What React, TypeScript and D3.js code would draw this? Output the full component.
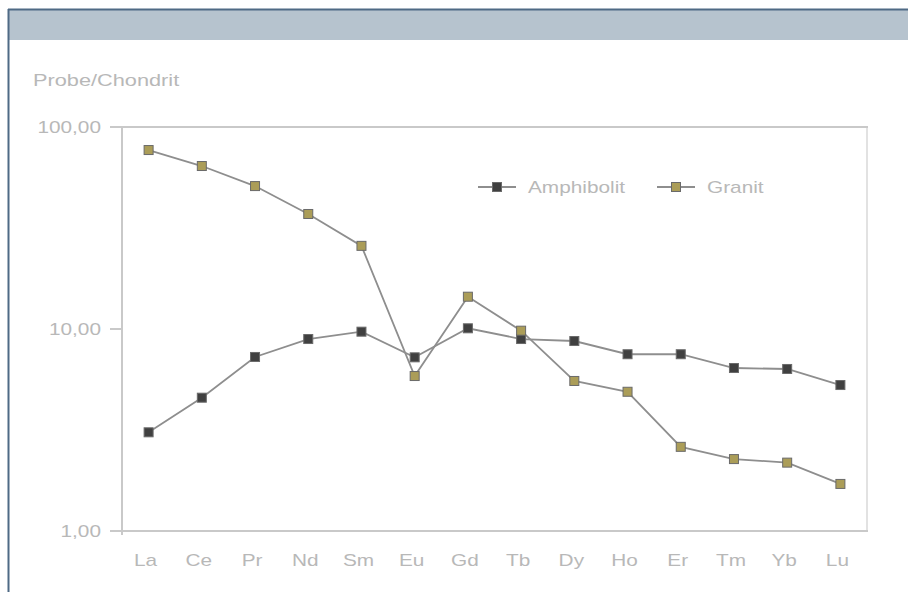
import React from "react"
import * as d3 from "d3"

// Seltene Erden, normiert auf Chondrit
const elements = ["La", "Ce", "Pr", "Nd", "Sm", "Eu", "Gd", "Tb", "Dy", "Ho", "Er", "Tm", "Yb", "Lu"]
const amphibolit = [3.08, 4.57, 7.27, 8.92, 9.7, 7.24, 10.08, 8.92, 8.72, 7.5, 7.5, 6.41, 6.34, 5.28]
const granit = [76.9, 64.1, 51.0, 37.1, 25.8, 5.85, 14.45, 9.81, 5.53, 4.89, 2.61, 2.27, 2.18, 1.71]
const yTicks = [1, 10, 100]
const yTickLabels = ["1,00", "10,00", "100,00"]
const seriesNames = ["Amphibolit", "Granit"]

const W = 908
const H = 592
const plot = { left: 122, right: 867, top: 127, bottom: 531 }

const TEXT = "#b8b8b8"
const LINE = "#8e8e8e"
const AXIS = "#c9c9c9"
const FILLS = ["#404040", "#ab9d58"]
const FONT = "'Liberation Sans', Arial, sans-serif"
const STRETCH = 1.3

function StretchText({ x, y, anchor = "start", sx = STRETCH, children }: any) {
  return (
    <text
      transform={`translate(${x},${y}) scale(${sx},1)`}
      textAnchor={anchor}
      fontFamily={FONT}
      fontSize={16}
      fill={TEXT}
    >
      {children}
    </text>
  )
}

export default function App() {
  const x = d3.scaleBand<string>().domain(elements).range([plot.left, plot.right])
  const cx = (e: string) => (x(e) ?? 0) + x.bandwidth() / 2
  const y = d3.scaleLog().domain([1, 100]).range([plot.bottom, plot.top])

  const line = d3
    .line<number>()
    .x((_d, i) => cx(elements[i]))
    .y((d) => y(d))

  const series = [amphibolit, granit]
  const m = 9 // Markergröße

  const legendX = [478, 657]
  const legendY = 187

  return (
    <svg width={W} height={H} style={{ position: "absolute", left: 0, top: 0 }}>
      <rect x={0} y={0} width={W} height={H} fill="#fff" />
      {/* Rahmen + Kopfleiste */}
      <rect x={9} y={10} width={W - 9} height={30} fill="#b6c3ce" />
      <line x1={8} x2={W} y1={9.5} y2={9.5} stroke="#4f6a85" strokeWidth={2} />
      <line x1={8.5} x2={8.5} y1={9} y2={H} stroke="#4f6a85" strokeWidth={2} />

      <StretchText x={33} y={86} sx={1.36}>Probe/Chondrit</StretchText>

      {/* Plotrahmen */}
      <line x1={plot.right} x2={plot.right} y1={plot.top} y2={plot.bottom} stroke="#e2e2e2" strokeWidth={2} />
      <line x1={110} x2={plot.right + 1} y1={y(100)} y2={y(100)} stroke={AXIS} strokeWidth={2} />
      <line x1={110} x2={plot.right + 1} y1={y(1)} y2={y(1)} stroke={AXIS} strokeWidth={2} />
      <line x1={plot.left} x2={plot.left} y1={plot.top} y2={plot.bottom + 4} stroke={AXIS} strokeWidth={2} />

      {/* Y-Achse */}
      {yTicks.map((t, i) => (
        <g key={t}>
          <line x1={110} x2={plot.left} y1={y(t)} y2={y(t)} stroke={AXIS} strokeWidth={2} />
          <StretchText x={101} y={y(t) + 5.7} anchor="end">
            {yTickLabels[i]}
          </StretchText>
        </g>
      ))}

      {/* X-Achse */}
      {elements.map((e) => (
        <StretchText key={e} x={cx(e) - 3} y={566} anchor="middle">
          {e}
        </StretchText>
      ))}

      {/* Linien */}
      {series.map((s, si) => (
        <path key={si} d={line(s) ?? ""} fill="none" stroke={LINE} strokeWidth={1.8} />
      ))}
      {series.map((s, si) =>
        s.map((v, i) => (
          <rect
            key={`${si}-${i}`}
            x={cx(elements[i]) - m / 2}
            y={y(v) - m / 2}
            width={m}
            height={m}
            fill={FILLS[si]}
            stroke="#6a6a6a"
            strokeWidth={1}
          />
        ))
      )}

      {/* Legende */}
      {seriesNames.map((n, i) => (
        <g key={n}>
          <line x1={legendX[i]} x2={legendX[i] + 38} y1={legendY} y2={legendY} stroke={LINE} strokeWidth={1.8} />
          <rect
            x={legendX[i] + 19 - m / 2}
            y={legendY - m / 2}
            width={m}
            height={m}
            fill={FILLS[i]}
            stroke="#6a6a6a"
            strokeWidth={1}
          />
          <StretchText x={legendX[i] + 50} y={legendY + 5.7}>
            {n}
          </StretchText>
        </g>
      ))}
    </svg>
  )
}
